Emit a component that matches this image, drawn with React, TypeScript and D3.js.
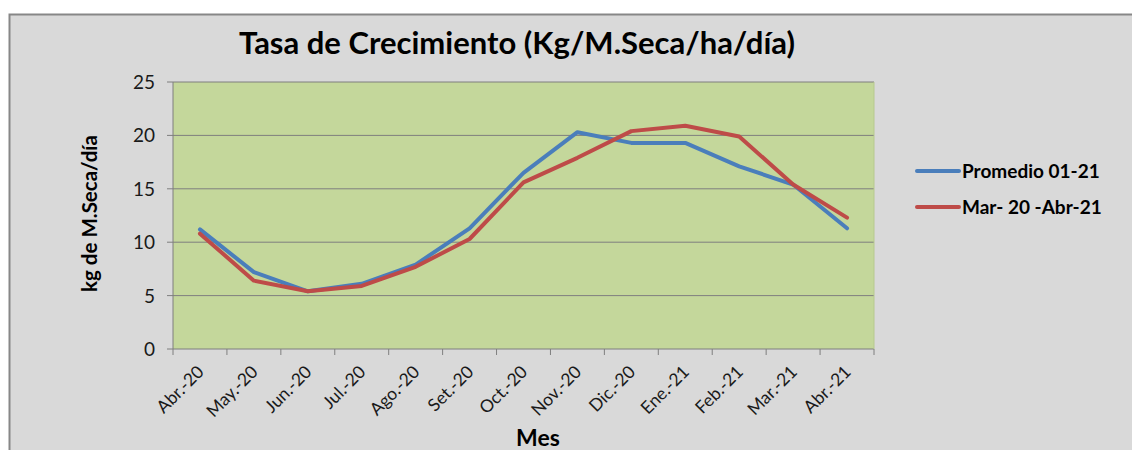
import React from "react";
import * as d3 from "d3";

const months = [
  "Abr.-20", "May.-20", "Jun.-20", "Jul.-20", "Ago.-20", "Set.-20", "Oct.-20",
  "Nov.-20", "Dic.-20", "Ene.-21", "Feb.-21", "Mar.-21", "Abr.-21",
];
const promedio = [11.2, 7.2, 5.4, 6.1, 7.9, 11.3, 16.5, 20.3, 19.3, 19.3, 17.1, 15.4, 11.3];
const temporada = [10.8, 6.4, 5.4, 5.9, 7.7, 10.3, 15.6, 17.9, 20.4, 20.9, 19.9, 15.4, 12.3];
const yTicks = [0, 5, 10, 15, 20, 25];
const seriesNames = ["Promedio 01-21", "Mar- 20 -Abr-21"];
const colors = ["#4a7ebb", "#be4b48"];

const W = 1132;
const H = 450;
const plot = { left: 173, right: 874, top: 82, bottom: 349 };
const font = "Lato, 'Open Sans', sans-serif";

const App = () => {
  const x = d3
    .scaleBand<string>()
    .domain(months)
    .range([plot.left, plot.right]);
  const y = d3.scaleLinear().domain([0, 25]).range([plot.bottom, plot.top]);

  const line = d3
    .line<number>()
    .x((_, i) => (x(months[i]) as number) + x.bandwidth() / 2)
    .y((d) => y(d));

  // tick marks sit on the category boundaries
  const boundaries = months.map((m) => x(m) as number).concat([plot.right]);

  return (
    <svg
      width={W}
      height={H}
      style={{ position: "absolute", left: 0, top: 0 }}
      fontFamily={font}
    >
      <rect x={0} y={0} width={W} height={H} fill="#ffffff" />
      <rect x={9.5} y={14.5} width={W + 10} height={H + 10} fill="#d9d9d9" stroke="#878787" strokeWidth={2} />

      <text x={517} y={54} textAnchor="middle" fontSize={31} fontWeight="bold" fill="#000">
        Tasa de Crecimiento (Kg/M.Seca/ha/día)
      </text>

      <rect
        x={plot.left}
        y={plot.top}
        width={plot.right - plot.left}
        height={plot.bottom - plot.top}
        fill="#c4d79b"
      />

      {yTicks.map((t) => (
        <g key={t}>
          <line
            x1={plot.left - 6}
            x2={t === 0 ? plot.left : plot.right}
            y1={y(t)}
            y2={y(t)}
            stroke="#7f7f7f"
            strokeWidth={1}
          />
          <text x={155} y={y(t) + 7} textAnchor="end" fontSize={19} fill="#1a1a1a">
            {t}
          </text>
        </g>
      ))}
      <line x1={plot.left} x2={plot.left} y1={plot.top} y2={plot.bottom} stroke="#7f7f7f" />
      <line x1={plot.left} x2={plot.right} y1={plot.bottom} y2={plot.bottom} stroke="#7f7f7f" />
      <line x1={plot.right} x2={plot.right} y1={plot.top} y2={plot.bottom} stroke="#b7c98e" />

      {boundaries.map((b, i) => (
        <line key={i} x1={b} x2={b} y1={plot.bottom} y2={plot.bottom + 6} stroke="#7f7f7f" />
      ))}

      {months.map((m) => {
        const cx = (x(m) as number) + x.bandwidth() / 2;
        return (
          <text
            key={m}
            transform={`translate(${cx + 5},${plot.bottom + 24}) rotate(-45)`}
            textAnchor="end"
            fontSize={17.5}
            fill="#1a1a1a"
          >
            {m}
          </text>
        );
      })}

      <path d={line(promedio) || ""} fill="none" stroke={colors[0]} strokeWidth={4} strokeLinejoin="round" strokeLinecap="round" />
      <path d={line(temporada) || ""} fill="none" stroke={colors[1]} strokeWidth={4} strokeLinejoin="round" strokeLinecap="round" />

      <text
        transform={`translate(97,${(plot.top + plot.bottom) / 2 - 2}) rotate(-90)`}
        textAnchor="middle"
        fontSize={20.5}
        fontWeight="bold"
        fill="#000"
      >
        kg de M.Seca/día
      </text>
      <text x={538} y={446} textAnchor="middle" fontSize={23} fontWeight="bold" fill="#000">
        Mes
      </text>

      {seriesNames.map((s, i) => (
        <g key={s} transform={`translate(917,${171 + i * 36})`}>
          <line x1={0} x2={42} y1={0} y2={0} stroke={colors[i]} strokeWidth={4} strokeLinecap="round" />
          <text x={45} y={7} fontSize={19} fontWeight="bold" fill="#000">
            {s}
          </text>
        </g>
      ))}
    </svg>
  );
};

export default App;
